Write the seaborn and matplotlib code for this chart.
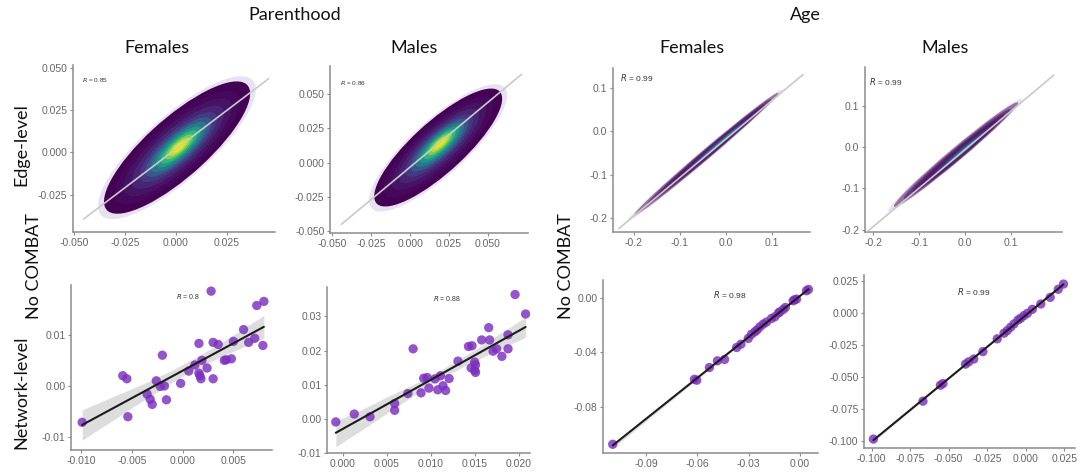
import numpy as np
import pandas as pd
import matplotlib
matplotlib.use("Agg")
import matplotlib.pyplot as plt
from matplotlib.patches import Ellipse
from matplotlib.ticker import FormatStrFormatter
import seaborn as sns

# ----------------------------- DATA -----------------------------
# Network-level points (x = COMBAT estimate, y = No COMBAT estimate)
par_f_x = [-0.0099, -0.0059, -0.0055, -0.0054, -0.0020, -0.0026, -0.0022, -0.0018,
           -0.0035, -0.0032, -0.0030, -0.0016, -0.0002, 0.0006, 0.0012, 0.0016,
           0.0017, 0.0018, 0.0019, 0.0016, 0.0024, 0.0030, 0.0028, 0.0030, 0.0035,
           0.0041, 0.0043, 0.0048, 0.0050, 0.0060, 0.0065, 0.0071, 0.0073, 0.0080, 0.0079]
par_f_y = [-0.0071, 0.0020, 0.0014, -0.0060, 0.0060, 0.0010, -0.0001, 0.0000,
           -0.0016, -0.0026, -0.0036, -0.0027, 0.0005, 0.0029, 0.0041, 0.0025,
           0.0020, 0.0014, 0.0050, 0.0083, 0.0035, 0.0014, 0.0185, 0.0085, 0.0081,
           0.0050, 0.0051, 0.0053, 0.0087, 0.0110, 0.0085, 0.0093, 0.0157, 0.0165, 0.0079]

par_m_x = [-0.0008, 0.0013, 0.0031, 0.0059, 0.0059, 0.0074, 0.0080, 0.0089, 0.0092,
           0.0096, 0.0098, 0.0105, 0.0108, 0.0111, 0.0114, 0.0117, 0.0121, 0.0131,
           0.0143, 0.0147, 0.0146, 0.0150, 0.0150, 0.0151, 0.0151, 0.0158, 0.0166,
           0.0167, 0.0171, 0.0175, 0.0181, 0.0188, 0.0188, 0.0196, 0.0208]
par_m_y = [-0.0009, 0.0014, 0.0006, 0.0045, 0.0025, 0.0074, 0.0205, 0.0076, 0.0119,
           0.0121, 0.0090, 0.0117, 0.0085, 0.0126, 0.0097, 0.0083, 0.0118, 0.0169,
           0.0212, 0.0214, 0.0149, 0.0166, 0.0142, 0.0158, 0.0136, 0.0231, 0.0267,
           0.0231, 0.0198, 0.0205, 0.0183, 0.0205, 0.0246, 0.0364, 0.0307]

age_f_x = [-0.1097, -0.0618, -0.0604, -0.0530, -0.0483, -0.0441, -0.0370, -0.0345,
           -0.0302, -0.0283, -0.0263, -0.0250, -0.0234, -0.0214, -0.0195, -0.0166,
           -0.0146, -0.0125, -0.0117, -0.0097, -0.0084, -0.0039, -0.0030, -0.0019,
           0.0039, 0.0051]
age_f_y = [-0.1073, -0.0597, -0.0604, -0.0511, -0.0462, -0.0452, -0.0364, -0.0340,
           -0.0298, -0.0267, -0.0249, -0.0235, -0.0213, -0.0193, -0.0178, -0.0152,
           -0.0139, -0.0112, -0.0103, -0.0086, -0.0071, -0.0022, -0.0015, -0.0010,
           0.0051, 0.0061]

age_m_x = [-0.0989, -0.0667, -0.0554, -0.0537, -0.0391, -0.0370, -0.0337, -0.0278,
           -0.0185, -0.0141, -0.0120, -0.0098, -0.0076, -0.0050, -0.0033, -0.0011,
           0.0011, 0.0043, 0.0098, 0.0159, 0.0211, 0.0245]
age_m_y = [-0.0985, -0.0688, -0.0563, -0.0550, -0.0398, -0.0380, -0.0358, -0.0300,
           -0.0200, -0.0156, -0.0135, -0.0109, -0.0083, -0.0052, -0.0039, -0.0018,
           0.0000, 0.0031, 0.0073, 0.0125, 0.0188, 0.0229]

net_x = [par_f_x, par_m_x, age_f_x, age_m_x]
net_y = [par_f_y, par_m_y, age_f_y, age_m_y]
net_r = ["0.8", "0.88", "0.98", "0.99"]

# Edge-level clouds: outer cloud ellipse and density core
edge_cx = [0.0005, 0.0180, -0.0420, -0.0200]
edge_cy = [0.0028, 0.0110, -0.0520, -0.0180]
edge_core_x = [0.0017, 0.0195, 0.0000, 0.0000]
edge_core_y = [0.0033, 0.0143, -0.0150, -0.0060]
edge_a = [0.0505, 0.0570, 0.2100, 0.1850]
edge_b = [0.0160, 0.0175, 0.0110, 0.0150]
edge_angle = [48.0, 46.7, 42.0, 43.2]
edge_cmax = [1.0, 1.0, 0.62, 0.62]
edge_alpha = [1.0, 1.0, 0.5, 0.5]
edge_r = ["0.85", "0.86", "0.99", "0.99"]
# fitted line through each cloud
edge_line_x0 = [-0.0453, -0.0442, -0.232, -0.212]
edge_line_x1 = [0.0454, 0.0715, 0.168, 0.193]
edge_slope = [0.913, 0.949, 0.8875, 0.936]
edge_icept = [0.0020, -0.0033, -0.0180, -0.0056]
# density levels (fraction of outer cloud, relative density colour)
level_frac = [1.0, 0.86, 0.74, 0.63, 0.53, 0.45, 0.38, 0.31, 0.25, 0.19, 0.14, 0.09]
level_cval = [0.0, 0.02, 0.05, 0.10, 0.17, 0.27, 0.40, 0.53, 0.66, 0.79, 0.90, 0.97]

# axes ranges / ticks
edge_xlim = [(-0.0505, 0.0485), (-0.0515, 0.0757), (-0.245, 0.183), (-0.218, 0.211)]
edge_ylim = [(-0.047, 0.0515), (-0.0516, 0.0707), (-0.232, 0.146), (-0.206, 0.195)]
edge_xt = [[-0.050, -0.025, 0.0, 0.025], [-0.050, -0.025, 0.0, 0.025, 0.050],
           [-0.2, -0.1, 0.0, 0.1], [-0.2, -0.1, 0.0, 0.1]]
edge_yt = [[-0.025, 0.0, 0.025, 0.050], [-0.050, -0.025, 0.0, 0.025, 0.050],
           [-0.2, -0.1, 0.0, 0.1], [-0.2, -0.1, 0.0, 0.1]]
edge_fmt = ["%.3f", "%.3f", "%.1f", "%.1f"]

net_xlim = [(-0.0110, 0.0088), (-0.0018, 0.0213), (-0.1154, 0.0107), (-0.1050, 0.0320)]
net_ylim = [(-0.0125, 0.0197), (-0.0099, 0.0386), (-0.1137, 0.0130), (-0.1055, 0.0300)]
net_xt = [[-0.010, -0.005, 0.0, 0.005], [0.0, 0.005, 0.010, 0.015, 0.020],
          [-0.09, -0.06, -0.03, 0.0], [-0.100, -0.075, -0.050, -0.025, 0.0, 0.025]]
net_yt = [[-0.01, 0.0, 0.01], [-0.01, 0.0, 0.01, 0.02, 0.03],
          [-0.08, -0.04, 0.0], [-0.100, -0.075, -0.050, -0.025, 0.0, 0.025]]
net_xfmt = ["%.3f", "%.3f", "%.2f", "%.3f"]
net_yfmt = ["%.2f", "%.2f", "%.2f", "%.3f"]

group_titles = ["Parenthood", "Age"]
col_titles = ["Females", "Males", "Females", "Males"]
row_titles = ["Edge-level", "Network-level"]
combat_label = "No COMBAT"

# ----------------------------- LAYOUT -----------------------------
sns.set_theme(style="ticks")
plt.rcParams['font.family'] = ['Liberation Sans', 'DejaVu Sans']
plt.rcParams['axes.unicode_minus'] = False

W, H = 1080, 475
fig = plt.figure(figsize=(W / 100, H / 100), dpi=100)


def px_rect(l, r, t, b):
    return [l / W, 1 - b / H, (r - l) / W, (b - t) / H]


edge_rects = [px_rect(73, 275, 65, 232), px_rect(330, 528, 66, 233),
              px_rect(613, 810, 68, 232), px_rect(865, 1062, 67, 232)]
net_rects = [px_rect(71, 272, 285, 450), px_rect(327, 530, 287, 453),
             px_rect(603, 818, 280, 453), px_rect(864, 1075, 275, 448)]
edge_rpos = [(0.045, 0.91, 4.6), (0.05, 0.90, 4.6), (0.036, 0.945, 6.0), (0.02, 0.91, 6.0)]
net_rpos = [(0.52, 0.93, 5.0), (0.52, 0.93, 5.0), (0.51, 0.915, 6.0), (0.44, 0.907, 6.0)]

AX_COL = '#8c8c8c'


def style_axis(ax, xlim, ylim, xt, yt, xfmt, yfmt):
    ax.set_xlim(*xlim)
    ax.set_ylim(*ylim)
    ax.set_xticks(xt)
    ax.set_yticks(yt)
    ax.xaxis.set_major_formatter(FormatStrFormatter(xfmt))
    ax.yaxis.set_major_formatter(FormatStrFormatter(yfmt))
    sns.despine(ax=ax)
    for s in ['left', 'bottom']:
        ax.spines[s].set_color(AX_COL)
        ax.spines[s].set_linewidth(1.1)
    ax.tick_params(length=2.5, width=0.8, color=AX_COL, labelsize=7.5,
                   labelcolor='#666666', pad=1.5)
    ax.set_xlabel('')
    ax.set_ylabel('')


cmap = plt.get_cmap('viridis')

# Edge-level density clouds
for i in range(4):
    ax = fig.add_axes(edge_rects[i])
    # faint fringe of sparse points
    fr = 1.08
    ax.add_patch(Ellipse(
        (edge_core_x[i] + fr * (edge_cx[i] - edge_core_x[i]),
         edge_core_y[i] + fr * (edge_cy[i] - edge_core_y[i])),
        2 * fr * edge_a[i], 2 * fr * edge_b[i], angle=edge_angle[i],
        facecolor='#9a7cbd', edgecolor='none', alpha=0.22, zorder=1))
    for fr, cv in zip(level_frac, level_cval):
        ax.add_patch(Ellipse(
            (edge_core_x[i] + fr * (edge_cx[i] - edge_core_x[i]),
             edge_core_y[i] + fr * (edge_cy[i] - edge_core_y[i])),
            2 * fr * edge_a[i], 2 * fr * edge_b[i], angle=edge_angle[i],
            facecolor=cmap(cv * edge_cmax[i]), edgecolor='none',
            alpha=edge_alpha[i], zorder=2))
    lx = np.array([edge_line_x0[i], edge_line_x1[i]])
    ax.plot(lx, edge_icept[i] + edge_slope[i] * lx, color='#c9c9c9', lw=1.2, zorder=3)
    style_axis(ax, edge_xlim[i], edge_ylim[i], edge_xt[i], edge_yt[i],
               edge_fmt[i], edge_fmt[i])
    rx, ry, rs = edge_rpos[i]
    ax.text(rx, ry, r"$\it{R}$ = " + edge_r[i], transform=ax.transAxes,
            fontsize=rs, color='#333333', va='center', ha='left')

# Network-level scatter with regression fit
for i in range(4):
    ax = fig.add_axes(net_rects[i])
    df = pd.DataFrame({'x': net_x[i], 'y': net_y[i]})
    sns.regplot(data=df, x='x', y='y', ax=ax, ci=95, seed=3,
                scatter_kws=dict(s=45, color='#7B2FBE', alpha=0.82,
                                 edgecolors='none', zorder=2),
                line_kws=dict(color='#1c1c1c', lw=1.5, zorder=4))
    style_axis(ax, net_xlim[i], net_ylim[i], net_xt[i], net_yt[i],
               net_xfmt[i], net_yfmt[i])
    rx, ry, rs = net_rpos[i]
    ax.text(rx, ry, r"$\it{R}$ = " + net_r[i], transform=ax.transAxes,
            fontsize=rs, color='#333333', va='center', ha='left')

# Titles and row labels
TFONT = ['Lato', 'DejaVu Sans']
fig.text(295 / W, 1 - 15 / H, group_titles[0], ha='center', va='center',
         fontsize=13, family=TFONT, color='#111111')
fig.text(805 / W, 1 - 15 / H, group_titles[1], ha='center', va='center',
         fontsize=13, family=TFONT, color='#111111')
for xc, t in zip([157, 414, 692, 945], col_titles):
    fig.text(xc / W, 1 - 48 / H, t, ha='center', va='center',
             fontsize=13, family=TFONT, color='#111111')
fig.text(21 / W, 1 - 145 / H, row_titles[0], rotation=90, ha='center', va='center',
         fontsize=13, family=TFONT, color='#111111')
fig.text(21 / W, 1 - 392 / H, row_titles[1], rotation=90, ha='center', va='center',
         fontsize=13, family=TFONT, color='#111111')
fig.text(34 / W, 1 - 266 / H, combat_label, rotation=90, ha='center', va='center',
         fontsize=13, family=TFONT, color='#111111')
fig.text(566 / W, 1 - 266 / H, combat_label, rotation=90, ha='center', va='center',
         fontsize=13, family=TFONT, color='#111111')

fig.savefig("out.png", dpi=100)
